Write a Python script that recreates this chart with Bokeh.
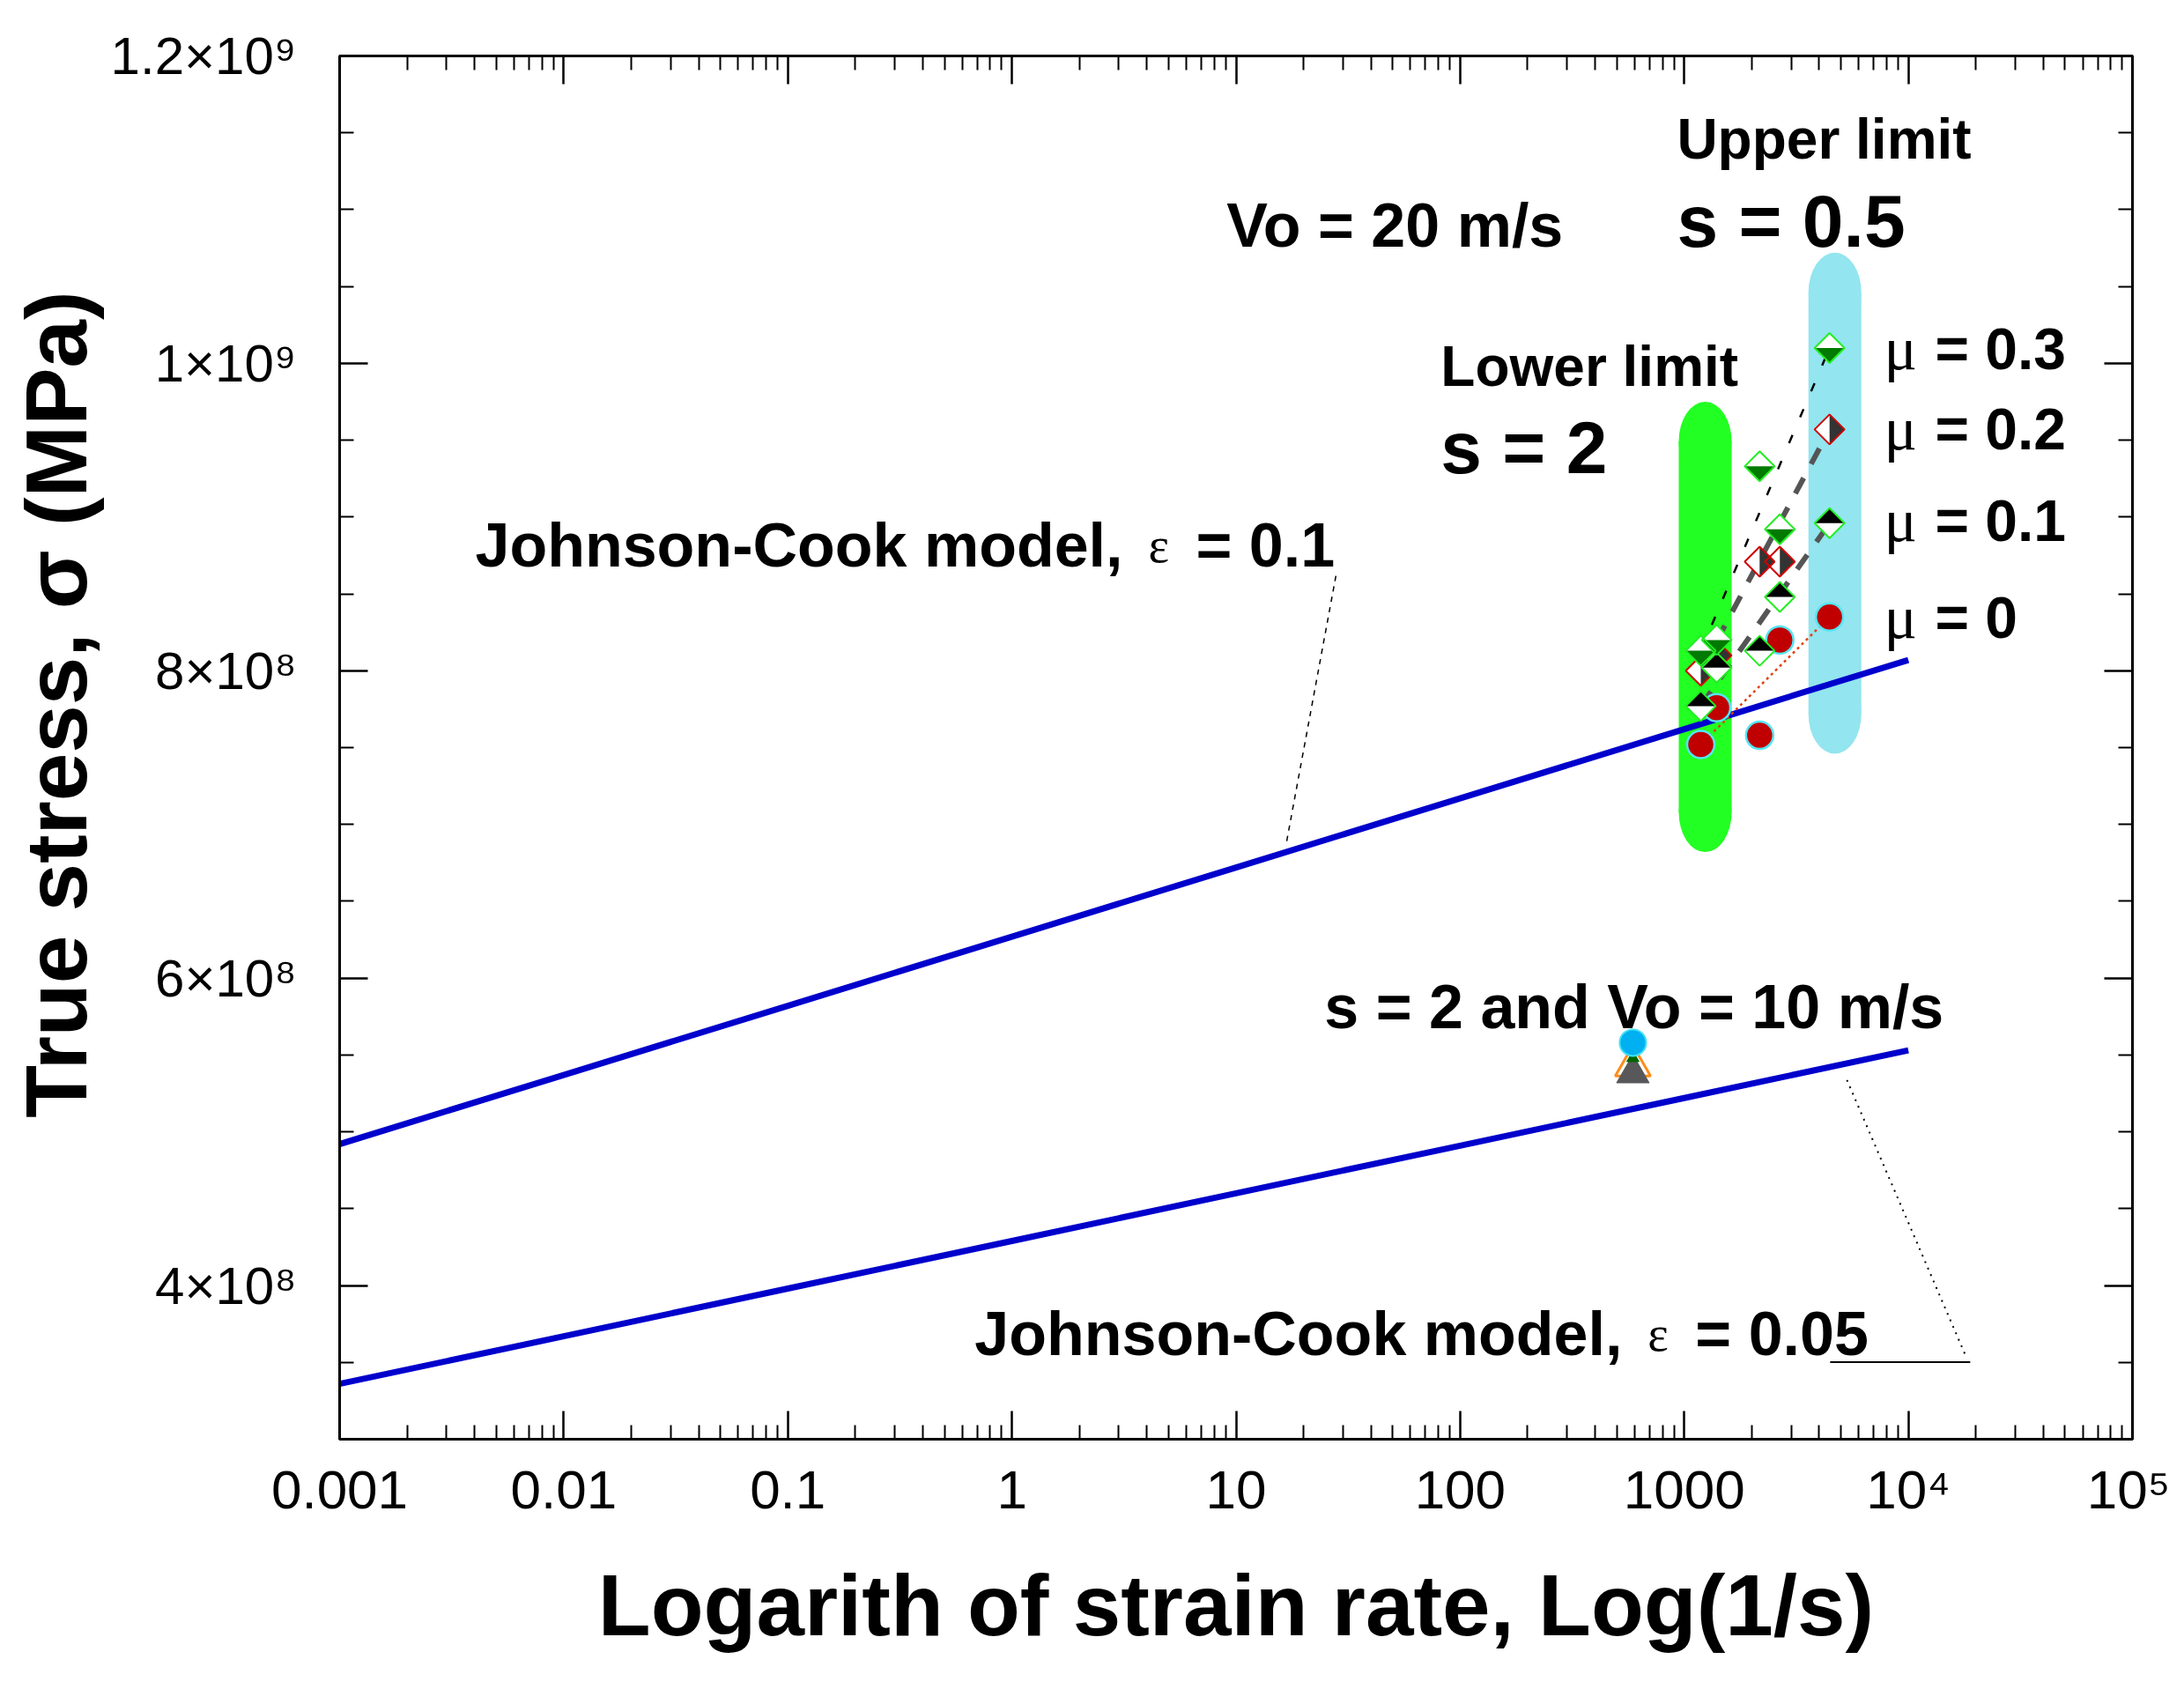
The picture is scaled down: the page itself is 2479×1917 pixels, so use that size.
import math
import numpy as np
from bokeh.plotting import figure
from bokeh.models import Range1d, FixedTicker, LogAxis, LinearAxis, CustomJSTickFormatter
from bokeh.core.properties import value
from bokeh.embed import file_html
from bokeh.resources import INLINE

# ---------------- data ----------------
x_tick_values = [1e-3, 1e-2, 1e-1, 1e0, 1e1, 1e2, 1e3, 1e4, 1e5]
x_tick_labels = ["0.001", "0.01", "0.1", "1", "10", "100", "1000", "10⁴", "10⁵"]
y_tick_values = [4e8, 6e8, 8e8, 1e9, 1.2e9]
y_tick_labels = ["4×10⁸", "6×10⁸", "8×10⁸", "1×10⁹", "1.2×10⁹"]

jc_strain_rate = [1e-3, 1e-2, 1e-1, 1e0, 1e1, 1e2, 1e3, 1e4]
jc_stress_eps_0p1 = [4.92e8, 5.37e8, 5.82e8, 6.27e8, 6.72e8, 7.17e8, 7.62e8, 8.07e8]
jc_stress_eps_0p05 = [3.36e8, 3.67e8, 3.98e8, 4.29e8, 4.60e8, 4.91e8, 5.22e8, 5.53e8]

sim_strain_rate = [1185, 1395, 2170, 2670, 4450]
stress_mu_0 = [7.52e8, 7.76e8, 7.58e8, 8.20e8, 8.35e8]
stress_mu_0p1 = [7.77e8, 8.02e8, 8.13e8, 8.48e8, 8.96e8]
stress_mu_0p2 = [8.00e8, 8.10e8, 8.71e8, 8.71e8, 9.57e8]
stress_mu_0p3 = [8.13e8, 8.20e8, 9.33e8, 8.92e8, 1.010e9]

v10_strain_rate = [590]
v10_stress_mu_0 = [5.58e8]
v10_stress_mu_0p1 = [5.38e8]
v10_stress_mu_0p2 = [5.43e8]
v10_stress_mu_0p3 = [5.48e8]

band_strain_rate = [1240, 4700]
band_stress_top = [9.75e8, 1.072e9]
band_stress_bottom = [6.82e8, 7.46e8]

# ---------------- layout ----------------
W, H = 2463, 1900
BL, BT = 385, 63
BR = W - 2420
BB = H - 1633
FRAME_W = W - BL - BR
FRAME_H = H - BT - BB
X_MIN, X_MAX = 1e-3, 1e5
Y_MIN, Y_MAX = 3e8, 1.2e9
PX_PER_DEC = FRAME_W / math.log10(X_MAX / X_MIN)
Y_PER_PX = (Y_MAX - Y_MIN) / FRAME_H
FONT = "Liberation Sans"
SERIF = "Liberation Serif"

p = figure(width=W, height=H, x_axis_type="log",
           x_range=Range1d(X_MIN, X_MAX), y_range=Range1d(Y_MIN, Y_MAX),
           output_backend="svg", toolbar_location=None,
           min_border_left=BL, min_border_right=BR, min_border_top=BT, min_border_bottom=BB)
p.grid.visible = False
p.background_fill_color = "white"
p.border_fill_color = "white"
p.outline_line_color = "black"
p.outline_line_width = 3

x_minor = [k * 10.0 ** e for e in range(-3, 5) for k in range(2, 10)]
y_minor = [float(v) for v in np.arange(3e8, 1.2e9 + 1, 0.5e8) if abs(v / 2e8 - round(v / 2e8)) > 1e-6]

fmt_code = """
for (let i = 0; i < vals.length; i++) {
  if (Math.abs(tick - vals[i]) <= 1e-6 * Math.abs(vals[i])) return labs[i];
}
return "";
"""
xfmt = CustomJSTickFormatter(args=dict(vals=x_tick_values, labs=x_tick_labels), code=fmt_code)
yfmt = CustomJSTickFormatter(args=dict(vals=y_tick_values, labs=y_tick_labels), code=fmt_code)


def style_axis(ax):
    ax.axis_line_width = 3
    ax.axis_line_color = "black"
    ax.major_tick_in = 32
    ax.major_tick_out = 0
    ax.minor_tick_in = 16
    ax.minor_tick_out = 0
    ax.major_tick_line_width = 2.5
    ax.minor_tick_line_width = 2


xa = p.xaxis[0]
xa.ticker = FixedTicker(ticks=x_tick_values, minor_ticks=x_minor)
xa.formatter = xfmt
xa.major_label_text_font = FONT
xa.major_label_text_font_size = "62px"
xa.major_label_text_font_style = "normal"
xa.major_label_text_color = "black"
xa.major_label_standoff = 22
xa.axis_label = "Logarith of strain rate, Log(1/s)"
xa.axis_label_text_font = FONT
xa.axis_label_text_font_size = "98px"
xa.axis_label_text_font_style = "bold"
xa.axis_label_text_color = "black"
xa.axis_label_standoff = 39
style_axis(xa)

ya = p.yaxis[0]
ya.ticker = FixedTicker(ticks=y_tick_values, minor_ticks=y_minor)
ya.formatter = yfmt
ya.major_label_text_font = FONT
ya.major_label_text_font_size = "60px"
ya.major_label_text_font_style = "normal"
ya.major_label_text_color = "black"
ya.major_label_standoff = 49
ya.axis_label = "\u2003True stress, σ (MPa)"
ya.axis_label_text_font = FONT
ya.axis_label_text_font_size = "98px"
ya.axis_label_text_font_style = "bold"
ya.axis_label_text_color = "black"
ya.axis_label_standoff = 4
style_axis(ya)

top = LogAxis(ticker=FixedTicker(ticks=x_tick_values, minor_ticks=x_minor),
              major_label_text_font_size="16px", major_label_text_alpha=0,
              major_label_standoff=0)
style_axis(top)
p.add_layout(top, "above")
right = LinearAxis(ticker=FixedTicker(ticks=y_tick_values, minor_ticks=y_minor),
                   major_label_text_font_size="10px", major_label_text_alpha=0,
                   major_label_standoff=0)
style_axis(right)
p.add_layout(right, "right")

# ---------------- bands (capsules) ----------------
band_colors = ["#22FF22", "#93E5EF"]
cap_h = 90 * Y_PER_PX
mid = [(t + b) / 2 for t, b in zip(band_stress_top, band_stress_bottom)]
hgt = [(t - b) - cap_h for t, b in zip(band_stress_top, band_stress_bottom)]
p.rect(x=band_strain_rate, y=mid, width=60, width_units="screen", height=hgt,
       fill_color=band_colors, line_color=None)
p.ellipse(x=band_strain_rate, y=[t - cap_h / 2 for t in band_stress_top], width=60, width_units="screen",
          height=cap_h, fill_color=band_colors, line_color=None)
p.ellipse(x=band_strain_rate, y=[b + cap_h / 2 for b in band_stress_bottom], width=60, width_units="screen",
          height=cap_h, fill_color=band_colors, line_color=None)

# ---------------- Johnson-Cook lines ----------------
p.line(jc_strain_rate, jc_stress_eps_0p1, line_color="#0000CC", line_width=7)
p.line(jc_strain_rate, jc_stress_eps_0p05, line_color="#0000CC", line_width=7)

# leader lines for labels
p.line([27.9, 16.8], [8.617e8, 6.885e8], line_color="black", line_width=1.5, line_dash="6 6")
p.line([5321, 18030], [5.337e8, 3.542e8], line_color="black", line_width=2, line_dash="2 6")
p.line([4478, 18880], [3.502e8, 3.502e8], line_color="black", line_width=2)

# ---------------- trend lines ----------------
def ends(v):
    return [sim_strain_rate[0], sim_strain_rate[-1]], [v[0], v[-1]]

xx, yy = ends(stress_mu_0)
p.line(xx, yy, line_color="#E0400F", line_width=2.5, line_dash="3 4")
xx, yy = ends(stress_mu_0p1)
p.line(xx, yy, line_color="#555555", line_width=6, line_dash="20 18")
xx, yy = ends(stress_mu_0p2)
p.line(xx, yy, line_color="#555555", line_width=6, line_dash="20 18")
xx, yy = ends(stress_mu_0p3)
p.line(xx, yy, line_color="black", line_width=2.5, line_dash="10 22")

# ---------------- markers ----------------
p.scatter(sim_strain_rate, stress_mu_0, marker="circle", size=31,
          fill_color="#C00000", line_color="#55E6F5", line_width=2.5)

D = 17  # half diagonal of diamond in px


def diamond_patches(xs, ys, half):
    fx = 10 ** (D / PX_PER_DEC)
    dy = D * Y_PER_PX
    full_x, full_y, hx, hy = [], [], [], []
    for xc, yc in zip(xs, ys):
        full_x.append([xc / fx, xc, xc * fx, xc])
        full_y.append([yc, yc + dy, yc, yc - dy])
        if half == "top":
            hx.append([xc / fx, xc, xc * fx]); hy.append([yc, yc + dy, yc])
        elif half == "bottom":
            hx.append([xc / fx, xc * fx, xc]); hy.append([yc, yc, yc - dy])
        else:
            hx.append([xc, xc * fx, xc]); hy.append([yc + dy, yc, yc - dy])
    return full_x, full_y, hx, hy


def draw_diamonds(ys, half, outline, fill):
    fxs, fys, hxs, hys = diamond_patches(sim_strain_rate, ys, half)
    p.patches(fxs, fys, fill_color="white", line_color=None)
    p.patches(hxs, hys, fill_color=fill, line_color=None)
    p.patches(fxs, fys, fill_color=None, line_color=outline, line_width=2)


draw_diamonds(stress_mu_0p2, "right", "#D00000", "#333333")
draw_diamonds(stress_mu_0p1, "top", "#22EE22", "#000000")
draw_diamonds(stress_mu_0p3, "bottom", "#22EE22", "#007A00")

# Vo = 10 m/s points
p.scatter(v10_strain_rate, v10_stress_mu_0p2, marker="triangle", size=40,
          fill_color=None, line_color="#FF8C1A", line_width=3)
p.scatter(v10_strain_rate, v10_stress_mu_0p1, marker="triangle", size=37,
          fill_color="#58585A", line_color="#58585A")
p.scatter(v10_strain_rate, v10_stress_mu_0p3, marker="triangle", size=14,
          fill_color="#006600", line_color="#006600")
p.scatter(v10_strain_rate, v10_stress_mu_0, marker="circle", size=30,
          fill_color="#00B0F0", line_color="#40E0F8", line_width=2)

# ---------------- annotations ----------------
def label(x, y, txt, size, font=FONT, style="bold", x_offset=0):
    p.text(x=[x], y=[y], text=[txt], text_font=value(font), text_font_size=f"{size}px",
           text_font_style=style, text_align="left", text_baseline="alphabetic",
           x_offset=x_offset, text_color="black")


label(927, 1.146e9, "Upper limit", 64)
label(927, 1.0928e9, "s = 0.5", 84)
label(9.08, 1.0899e9, "Vo = 20 m/s", 70)
label(81.9, 9.982e8, "Lower limit", 64)
label(81.9, 9.454e8, "s = 2", 84)
label(24.8, 5.813e8, "s = 2 and Vo = 10 m/s", 70)

for yb, txt in [(1.0096e9, "= 0.3"), (9.575e8, "= 0.2"), (8.978e8, "= 0.1"), (8.347e8, "= 0")]:
    label(7780, yb, "μ", 70, font=SERIF, style="normal")
    label(7780, yb, txt, 66, x_offset=58)

for xl, yb, tail in [(0.00403, 8.818e8, "= 0.1"), (0.682, 3.686e8, "= 0.05")]:
    label(xl, yb, "Johnson-Cook model,", 70)
    label(xl, yb, "ε", 56, font=SERIF, style="normal", x_offset=764)
    label(xl, yb, tail, 70, x_offset=818)

open("out.html", "w").write(file_html(p, INLINE))
